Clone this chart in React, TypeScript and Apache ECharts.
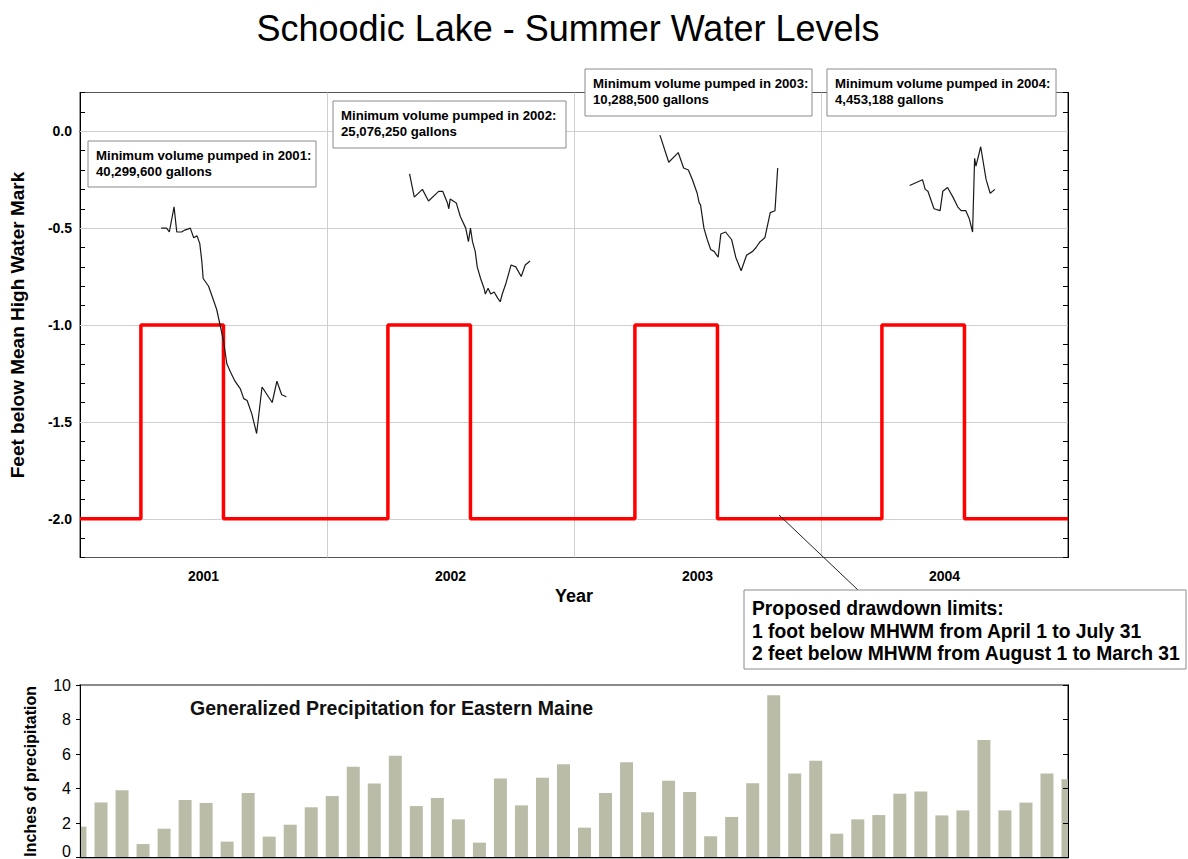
import React, { useEffect, useRef } from 'react';
import * as echarts from 'echarts';

const FONT = '"Liberation Sans", Arial, Helvetica, sans-serif';

// ---- data ----
const YEARS = ['2001', '2002', '2003', '2004'];
const MONTHS = ['Jan', 'Feb', 'Mar', 'Apr', 'May', 'Jun', 'Jul', 'Aug', 'Sep', 'Oct', 'Nov', 'Dec'];

// Water level readings: day of year and feet relative to Mean High Water Mark
const DAYS_2001 = [120, 128, 132, 139, 143, 150, 155, 163, 168, 173, 177, 180, 182, 190, 197, 202, 207, 212, 217, 222, 229, 237, 242, 247, 254, 261, 269, 284, 291, 298, 305];
const LEVEL_2001 = [-0.50, -0.50, -0.52, -0.39, -0.52, -0.52, -0.51, -0.50, -0.55, -0.54, -0.58, -0.67, -0.76, -0.80, -0.87, -0.92, -1.00, -1.08, -1.20, -1.24, -1.29, -1.33, -1.38, -1.39, -1.46, -1.56, -1.32, -1.40, -1.29, -1.36, -1.37];

const DAYS_2002 = [122, 129, 141, 150, 165, 171, 178, 180, 182, 191, 197, 205, 209, 212, 215, 219, 222, 227, 232, 234, 238, 242, 247, 252, 256, 259, 264, 272, 279, 287, 293, 300];
const LEVEL_2002 = [-0.22, -0.34, -0.30, -0.36, -0.31, -0.31, -0.37, -0.40, -0.35, -0.37, -0.44, -0.50, -0.57, -0.50, -0.57, -0.62, -0.70, -0.76, -0.81, -0.84, -0.81, -0.84, -0.83, -0.86, -0.88, -0.84, -0.79, -0.69, -0.70, -0.75, -0.69, -0.67];

const DAYS_2003 = [127, 140, 154, 162, 169, 175, 182, 185, 187, 192, 197, 202, 207, 213, 217, 224, 233, 239, 247, 255, 264, 269, 275, 282, 290, 297, 301];
const LEVEL_2003 = [-0.02, -0.16, -0.11, -0.19, -0.20, -0.25, -0.32, -0.37, -0.38, -0.50, -0.56, -0.61, -0.62, -0.65, -0.53, -0.52, -0.56, -0.65, -0.72, -0.64, -0.62, -0.60, -0.57, -0.55, -0.42, -0.41, -0.19];

const DAYS_2004 = [131, 150, 154, 158, 167, 176, 180, 187, 195, 202, 207, 214, 219, 224, 227, 229, 236, 244, 250, 257];
const LEVEL_2004 = [-0.28, -0.25, -0.30, -0.31, -0.40, -0.41, -0.31, -0.29, -0.34, -0.39, -0.41, -0.41, -0.45, -0.52, -0.14, -0.18, -0.08, -0.25, -0.32, -0.30];

// Proposed drawdown limits: change on April 1 (day 90) and August 1 (day 212)
const LIMIT_CHANGE_DAYS = [90, 212];
const LIMIT_LEVELS = [-1, -2];
const BASE_LIMIT = -2;

const GRID_LEVELS = [0, -0.5, -1, -1.5, -2];

// Monthly precipitation (inches), Jan 2001 .. Dec 2004
const PRECIP = [
  1.80, 3.20, 3.90, 0.79, 1.68, 3.34, 3.17, 0.93, 3.75, 1.22, 1.91, 2.92,
  3.57, 5.27, 4.29, 5.91, 2.99, 3.46, 2.22, 0.87, 4.59, 3.03, 4.63, 5.41,
  1.74, 3.75, 5.52, 2.63, 4.46, 3.80, 1.24, 2.36, 4.31, 9.40, 4.88, 5.62,
  1.39, 2.22, 2.47, 3.71, 3.84, 2.45, 2.74, 6.81, 2.74, 3.19, 4.88, 4.54,
];

const PUMPED_YEARS = ['2001', '2002', '2003', '2004'];
const PUMPED_GALLONS = ['40,299,600', '25,076,250', '10,288,500', '4,453,188'];
const LIMIT_NOTE = [
  'Proposed drawdown limits:',
  '1 foot below MHWM from April 1 to July 31',
  '2 feet below MHWM from August 1 to March 31',
];

const TITLE = 'Schoodic Lake - Summer Water Levels';
const PRECIP_TITLE = 'Generalized Precipitation for Eastern Maine';

// ---- helpers ----
const toSeries = (yearIdx: number, days: number[], levels: number[]) =>
  days.map((d, i) => [yearIdx + d / 365, levels[i]]);

const buildLimits = () => {
  const pts: number[][] = [[0, BASE_LIMIT]];
  YEARS.forEach((_, y) => {
    LIMIT_CHANGE_DAYS.forEach((d, i) => pts.push([y + d / 365, LIMIT_LEVELS[i]]));
  });
  pts.push([YEARS.length, BASE_LIMIT]);
  return pts;
};

const monthCats = YEARS.flatMap((y) => MONTHS.map((m) => `${m} ${y}`));

export default function App() {
  const ref = useRef<HTMLDivElement>(null);

  useEffect(() => {
    if (!ref.current) return;
    const chart = echarts.init(ref.current, undefined, { renderer: 'svg' });

    const levelSets = [
      [DAYS_2001, LEVEL_2001],
      [DAYS_2002, LEVEL_2002],
      [DAYS_2003, LEVEL_2003],
      [DAYS_2004, LEVEL_2004],
    ];

    const boxes = [
      { x: 88, y: 141, w: 228, h: 46 },
      { x: 333, y: 101, w: 233, h: 47 },
      { x: 585, y: 69, w: 227, h: 47 },
      { x: 827, y: 69, w: 229, h: 47 },
    ];

    const graphic: any[] = [
      {
        type: 'text',
        x: 568,
        y: 28,
        z: 100,
        style: { text: TITLE, fontSize: 36, fontFamily: FONT, fill: '#000', align: 'center', verticalAlign: 'middle' },
      },
      {
        type: 'text',
        x: 190,
        y: 708,
        z: 100,
        style: { text: PRECIP_TITLE, fontSize: 19.5, fontWeight: 'bold', fontFamily: FONT, fill: '#111', align: 'left', verticalAlign: 'middle' },
      },
      // masks that trim the half bars at the plot edges
      {
        type: 'rect',
        z: 5,
        silent: true,
        shape: { x: 70, y: 686, width: 9.5, height: 173 },
        style: { fill: '#fff' },
      },
      {
        type: 'rect',
        z: 5,
        silent: true,
        shape: { x: 1068.6, y: 686, width: 15, height: 173 },
        style: { fill: '#fff' },
      },
      {
        type: 'line',
        z: 90,
        shape: { x1: 779, y1: 515, x2: 858, y2: 590 },
        style: { stroke: '#222', lineWidth: 1 },
      },
      {
        type: 'rect',
        z: 95,
        shape: { x: 744, y: 590, width: 442, height: 79 },
        style: { fill: '#fff', stroke: '#8a8a8a', lineWidth: 1 },
      },
    ];
    LIMIT_NOTE.forEach((t, i) => {
      graphic.push({
        type: 'text',
        x: 752,
        y: 608.5 + i * 22.5,
        z: 100,
        style: { text: t, fontSize: 19.3, fontWeight: 'bold', fontFamily: FONT, fill: '#000', align: 'left', verticalAlign: 'middle' },
      });
    });
    boxes.forEach((b, i) => {
      graphic.push({
        type: 'rect',
        z: 95,
        shape: { x: b.x, y: b.y, width: b.w, height: b.h },
        style: { fill: '#fff', stroke: '#8a8a8a', lineWidth: 1 },
      });
      graphic.push({
        type: 'text',
        x: b.x + 8,
        y: b.y + 14.5,
        z: 100,
        style: { text: `Minimum volume pumped in ${PUMPED_YEARS[i]}:`, fontSize: 13.2, fontWeight: 'bold', fontFamily: FONT, fill: '#000', verticalAlign: 'middle' },
      });
      graphic.push({
        type: 'text',
        x: b.x + 8,
        y: b.y + 30.5,
        z: 100,
        style: { text: `${PUMPED_GALLONS[i]} gallons`, fontSize: 13.2, fontWeight: 'bold', fontFamily: FONT, fill: '#000', verticalAlign: 'middle' },
      });
    });

    const yLabel = (v: number) => {
      const r2 = v * 2;
      if (Math.abs(r2 - Math.round(r2)) > 1e-6) return '';
      const r = Math.round(r2) / 2;
      return r === 0 ? '0.0' : r.toFixed(1);
    };

    const precipLabel = (v: number) => (v === 0 ? '{z|0}' : String(v));

    const axisLineBlack = { show: true, lineStyle: { color: '#000', width: 1 } };

    const option: any = {
      animation: false,
      textStyle: { fontFamily: FONT },
      grid: [
        { left: 80, top: 92.5, width: 988, height: 465, show: true, borderColor: '#555', borderWidth: 1.2, backgroundColor: 'transparent', containLabel: false, outerBoundsMode: 'none' },
        { left: 80, top: 685, width: 988, height: 172.7, show: true, borderColor: '#666', borderWidth: 1.5, backgroundColor: 'transparent', containLabel: false, outerBoundsMode: 'none' },
      ],
      xAxis: [
        {
          type: 'value', gridIndex: 0, min: 0, max: 4, interval: 1,
          axisLine: axisLineBlack, axisTick: { show: false }, axisLabel: { show: false },
          splitLine: { show: true, lineStyle: { color: '#cfcfcf', width: 1 } },
        },
        {
          type: 'category', gridIndex: 0, position: 'bottom', data: YEARS, boundaryGap: true,
          axisLine: { show: false }, axisTick: { show: false }, splitLine: { show: false },
          axisLabel: { fontWeight: 'bold', fontSize: 14, color: '#000', margin: 11, fontFamily: FONT },
          name: 'Year', nameLocation: 'middle', nameGap: 24,
          nameTextStyle: { fontWeight: 'bold', fontSize: 18, color: '#000', fontFamily: FONT },
        },
        {
          type: 'category', gridIndex: 1, data: monthCats, boundaryGap: false, z: 10,
          axisLine: axisLineBlack, axisTick: { show: false }, axisLabel: { show: false }, splitLine: { show: false },
        },
      ],
      yAxis: [
        {
          type: 'value', gridIndex: 0, min: -2.2, max: 0.2, interval: 0.1,
          axisLine: axisLineBlack,
          axisTick: { show: true, inside: true, length: 5, lineStyle: { color: '#000' } },
          axisLabel: { formatter: yLabel, fontWeight: 'bold', fontSize: 14, color: '#000', margin: 8, fontFamily: FONT },
          splitLine: { show: false },
          name: 'Feet below Mean High Water Mark', nameLocation: 'middle', nameGap: 53,
          nameTextStyle: { fontWeight: 'bold', fontSize: 19, color: '#000', fontFamily: FONT },
        },
        {
          type: 'value', gridIndex: 0, position: 'right', min: -2.2, max: 0.2, interval: 0.1,
          axisLine: axisLineBlack,
          axisTick: { show: true, inside: true, length: 5, lineStyle: { color: '#000' } },
          axisLabel: { show: false }, splitLine: { show: false },
        },
        {
          type: 'value', gridIndex: 1, min: 0, max: 10, interval: 2, z: 10,
          axisLine: axisLineBlack,
          axisTick: { show: true, inside: false, length: 4, lineStyle: { color: '#000' } },
          axisLabel: {
            fontSize: 16, color: '#000', margin: 9, fontFamily: FONT, formatter: precipLabel,
            rich: { z: { fontSize: 16, color: '#000', fontFamily: FONT, padding: [0, 0, 12, 0] } },
          },
          splitLine: { show: false },
          name: 'Inches of precipitation', nameLocation: 'middle', nameGap: 42,
          nameTextStyle: { fontWeight: 'bold', fontSize: 16, color: '#000', fontFamily: FONT },
        },
        {
          type: 'value', gridIndex: 1, position: 'right', min: 0, max: 10, interval: 2, z: 10,
          axisLine: axisLineBlack,
          axisTick: { show: true, inside: true, length: 5, lineStyle: { color: '#000' } },
          axisLabel: { show: false }, splitLine: { show: false },
        },
      ],
      series: [
        {
          type: 'line', name: 'limits', xAxisIndex: 0, yAxisIndex: 0, step: 'end',
          data: buildLimits(), showSymbol: false, symbol: 'none', z: 3,
          lineStyle: { color: '#ff0000', width: 3.5 },
          markLine: {
            z: 1, silent: true, symbol: 'none', label: { show: false },
            lineStyle: { color: '#cfcfcf', width: 1, type: 'solid' },
            data: GRID_LEVELS.map((v) => ({ yAxis: v })),
          },
        },
        ...levelSets.map(([days, levels], i) => ({
          type: 'line', name: YEARS[i], xAxisIndex: 0, yAxisIndex: 0,
          data: toSeries(i, days, levels), showSymbol: false, symbol: 'none', z: 4,
          lineStyle: { color: '#1a1a1a', width: 1.2 },
        })),
        {
          type: 'bar', name: 'precip', xAxisIndex: 2, yAxisIndex: 2, data: PRECIP,
          barWidth: 13, itemStyle: { color: '#bbbca8' }, z: 2, clip: true,
        },
      ],
      graphic,
    };

    chart.setOption(option);
    return () => chart.dispose();
  }, []);

  return (
    <div
      ref={ref}
      style={{ position: 'absolute', left: 0, top: 0, width: 1188, height: 859, background: '#fff' }}
    />
  );
}
